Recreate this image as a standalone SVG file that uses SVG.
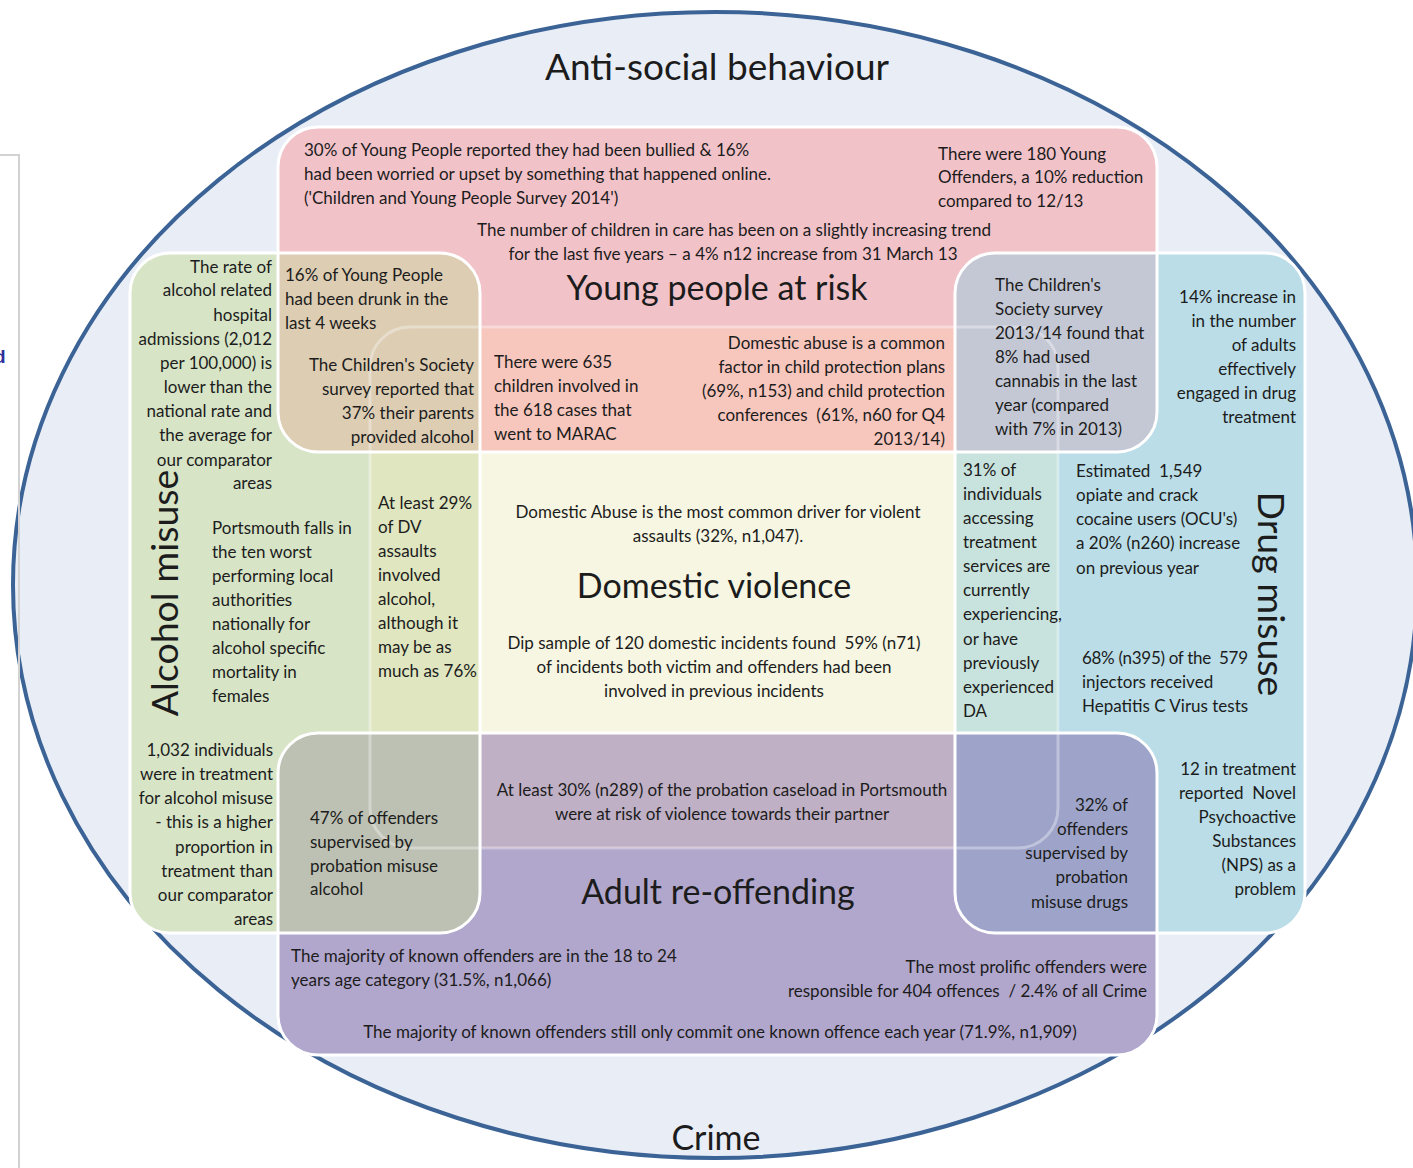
<svg xmlns="http://www.w3.org/2000/svg" width="1413" height="1168" viewBox="0 0 1413 1168">
<style>
.t{font-family:Lato,"Liberation Sans",sans-serif;font-size:17px;fill:#1c1c1c;white-space:pre}
.r{text-anchor:end}
.m{text-anchor:middle}
.h{font-size:34px}
.v{font-size:37.5px}
.box{stroke:#ffffff;stroke-width:3;fill:none}
</style>
<defs>
<clipPath id="cPink"><rect x="278" y="127" width="879" height="325" rx="40"/></clipPath>
<clipPath id="cGreen"><rect x="130" y="253" width="350" height="680" rx="40"/></clipPath>
<clipPath id="cBlue"><rect x="955" y="253" width="350" height="680" rx="40"/></clipPath>
<clipPath id="cPurple"><rect x="278" y="733" width="879" height="322" rx="40"/></clipPath>
<clipPath id="cDV"><rect x="370" y="327" width="688" height="521" rx="40"/></clipPath>
</defs>
<rect x="0" y="0" width="1413" height="1168" fill="#ffffff"/>
<ellipse cx="715" cy="585" rx="702" ry="573" fill="#e9eef6" stroke="#3b6396" stroke-width="4"/>
<path d="M0 155 H19 V1168" fill="none" stroke="#d2d2d2" stroke-width="2"/>
<text x="-6" y="363" style="font-family:'Liberation Sans',sans-serif;font-size:19px;font-weight:bold;fill:#2f2f9a">d</text>

<g id="regions">
<rect x="278" y="127" width="879" height="325" rx="40" fill="#f2c2c9"/>
<rect x="130" y="253" width="350" height="680" rx="40" fill="#d7e4c6"/>
<rect x="955" y="253" width="350" height="680" rx="40" fill="#badde7"/>
<rect x="278" y="733" width="879" height="322" rx="40" fill="#b1a6cc"/>
<rect x="370" y="327" width="688" height="521" rx="40" fill="#f6f6e2"/>
<rect x="370" y="327" width="688" height="521" rx="40" fill="#f7c6bd" clip-path="url(#cPink)"/>
<rect x="370" y="327" width="688" height="521" rx="40" fill="#dfe6c0" clip-path="url(#cGreen)"/>
<rect x="370" y="327" width="688" height="521" rx="40" fill="#c8e3dd" clip-path="url(#cBlue)"/>
<rect x="370" y="327" width="688" height="521" rx="40" fill="#c0b0c5" clip-path="url(#cPurple)"/>
<rect x="130" y="253" width="350" height="680" rx="40" fill="#dccdb3" clip-path="url(#cPink)"/>
<rect x="955" y="253" width="350" height="680" rx="40" fill="#c4c8d5" clip-path="url(#cPink)"/>
<rect x="130" y="253" width="350" height="680" rx="40" fill="#bdc1b3" clip-path="url(#cPurple)"/>
<rect x="955" y="253" width="350" height="680" rx="40" fill="#9ea4c9" clip-path="url(#cPurple)"/>
<rect class="box" x="370" y="327" width="688" height="521" rx="40" stroke-opacity="0.35" stroke-width="2"/>
<rect class="box" x="278" y="127" width="879" height="325" rx="40"/>
<rect class="box" x="130" y="253" width="350" height="680" rx="40"/>
<rect class="box" x="955" y="253" width="350" height="680" rx="40"/>
<rect class="box" x="278" y="733" width="879" height="322" rx="40"/>
</g>

<g id="titles">
<text class="t m h" x="717" y="80" style="font-size:37px">Anti-social behaviour</text>
<text class="t m h" x="717" y="300">Young people at risk</text>
<text class="t m h" x="714" y="598">Domestic violence</text>
<text class="t m h" x="718" y="904">Adult re-offending</text>
<text class="t m h" x="716" y="1150">Crime</text>
<text class="t m v" transform="translate(178 593) rotate(-90)">Alcohol misuse</text>
<text class="t m v" transform="translate(1258 594) rotate(90)">Drug misuse</text>
</g>

<g id="young-people">
<text class="t" x="304" y="156">30% of Young People reported they had been bullied &amp; 16%</text>
<text class="t" x="304" y="180">had been worried or upset by something that happened online.</text>
<text class="t" x="304" y="204">('Children and Young People Survey 2014')</text>
<text class="t" x="938" y="160">There were 180 Young</text>
<text class="t" x="938" y="183">Offenders, a 10% reduction</text>
<text class="t" x="938" y="207">compared to 12/13</text>
<text class="t m" x="734" y="236">The number of children in care has been on a slightly increasing trend</text>
<text class="t m" x="733" y="260">for the last five years – a 4% n12 increase from 31 March 13</text>
</g>

<g id="alcohol">
<text class="t r" x="272" y="273">The rate of</text>
<text class="t r" x="272" y="296">alcohol related</text>
<text class="t r" x="272" y="321">hospital</text>
<text class="t r" x="272" y="345">admissions (2,012</text>
<text class="t r" x="272" y="369">per 100,000) is</text>
<text class="t r" x="272" y="393">lower than the</text>
<text class="t r" x="272" y="417">national rate and</text>
<text class="t r" x="272" y="441">the average for</text>
<text class="t r" x="272" y="466">our comparator</text>
<text class="t r" x="272" y="489">areas</text>
<text class="t" x="212" y="534">Portsmouth falls in</text>
<text class="t" x="212" y="558">the ten worst</text>
<text class="t" x="212" y="582">performing local</text>
<text class="t" x="212" y="606">authorities</text>
<text class="t" x="212" y="630">nationally for</text>
<text class="t" x="212" y="654">alcohol specific</text>
<text class="t" x="212" y="678">mortality in</text>
<text class="t" x="212" y="702">females</text>
<text class="t r" x="273" y="756">1,032 individuals</text>
<text class="t r" x="273" y="780">were in treatment</text>
<text class="t r" x="273" y="804">for alcohol misuse</text>
<text class="t r" x="273" y="828">- this is a higher</text>
<text class="t r" x="273" y="853">proportion in</text>
<text class="t r" x="273" y="877">treatment than</text>
<text class="t r" x="273" y="901">our comparator</text>
<text class="t r" x="273" y="925">areas</text>
</g>

<g id="alcohol-young">
<text class="t" x="285" y="281">16% of Young People</text>
<text class="t" x="285" y="305">had been drunk in the</text>
<text class="t" x="285" y="329">last 4 weeks</text>
<text class="t r" x="474" y="371">The Children's Society</text>
<text class="t r" x="474" y="395">survey reported that</text>
<text class="t r" x="474" y="419">37% their parents</text>
<text class="t r" x="474" y="443">provided alcohol</text>
</g>

<g id="young-dv">
<text class="t" x="494" y="368">There were 635</text>
<text class="t" x="494" y="392">children involved in</text>
<text class="t" x="494" y="416">the 618 cases that</text>
<text class="t" x="494" y="440">went to MARAC</text>
<text class="t r" x="945" y="349">Domestic abuse is a common</text>
<text class="t r" x="945" y="373">factor in child protection plans</text>
<text class="t r" x="945" y="397">(69%, n153) and child protection</text>
<text class="t r" x="945" y="421">conferences  (61%, n60 for Q4</text>
<text class="t r" x="945" y="445">2013/14)</text>
</g>

<g id="alcohol-dv">
<text class="t" x="378" y="509">At least 29%</text>
<text class="t" x="378" y="533">of DV</text>
<text class="t" x="378" y="557">assaults</text>
<text class="t" x="378" y="581">involved</text>
<text class="t" x="378" y="605">alcohol,</text>
<text class="t" x="378" y="629">although it</text>
<text class="t" x="378" y="653">may be as</text>
<text class="t" x="378" y="677">much as 76%</text>
</g>

<g id="dv">
<text class="t m" x="718" y="518">Domestic Abuse is the most common driver for violent</text>
<text class="t m" x="718" y="542">assaults (32%, n1,047).</text>
<text class="t m" x="714" y="649">Dip sample of 120 domestic incidents found  59% (n71)</text>
<text class="t m" x="714" y="673">of incidents both victim and offenders had been</text>
<text class="t m" x="714" y="697">involved in previous incidents</text>
</g>

<g id="drug-young">
<text class="t" x="995" y="291">The Children's</text>
<text class="t" x="995" y="315">Society survey</text>
<text class="t" x="995" y="339">2013/14 found that</text>
<text class="t" x="995" y="363">8% had used</text>
<text class="t" x="995" y="387">cannabis in the last</text>
<text class="t" x="995" y="411">year (compared</text>
<text class="t" x="995" y="435">with 7% in 2013)</text>
</g>

<g id="drug">
<text class="t r" x="1296" y="303">14% increase in</text>
<text class="t r" x="1296" y="327">in the number</text>
<text class="t r" x="1296" y="351">of adults</text>
<text class="t r" x="1296" y="375">effectively</text>
<text class="t r" x="1296" y="399">engaged in drug</text>
<text class="t r" x="1296" y="423">treatment</text>
<text class="t" x="1076" y="477">Estimated  1,549</text>
<text class="t" x="1076" y="501">opiate and crack</text>
<text class="t" x="1076" y="525">cocaine users (OCU's)</text>
<text class="t" x="1076" y="549">a 20% (n260) increase</text>
<text class="t" x="1076" y="574">on previous year</text>
<text class="t" x="1082" y="664" textLength="166" lengthAdjust="spacing">68% (n395) of the  579</text>
<text class="t" x="1082" y="688">injectors received</text>
<text class="t" x="1082" y="712">Hepatitis C Virus tests</text>
<text class="t r" x="1296" y="775">12 in treatment</text>
<text class="t r" x="1296" y="799">reported  Novel</text>
<text class="t r" x="1296" y="823">Psychoactive</text>
<text class="t r" x="1296" y="847">Substances</text>
<text class="t r" x="1296" y="871">(NPS) as a</text>
<text class="t r" x="1296" y="895">problem</text>
</g>

<g id="drug-dv">
<text class="t" x="963" y="476">31% of</text>
<text class="t" x="963" y="500">individuals</text>
<text class="t" x="963" y="524">accessing</text>
<text class="t" x="963" y="548">treatment</text>
<text class="t" x="963" y="572">services are</text>
<text class="t" x="963" y="596">currently</text>
<text class="t" x="963" y="620">experiencing,</text>
<text class="t" x="963" y="645">or have</text>
<text class="t" x="963" y="669">previously</text>
<text class="t" x="963" y="693">experienced</text>
<text class="t" x="963" y="717">DA</text>
</g>

<g id="drug-offending">
<text class="t r" x="1128" y="811">32% of</text>
<text class="t r" x="1128" y="835">offenders</text>
<text class="t r" x="1128" y="859">supervised by</text>
<text class="t r" x="1128" y="883">probation</text>
<text class="t r" x="1128" y="908">misuse drugs</text>
</g>

<g id="alcohol-offending">
<text class="t" x="310" y="824">47% of offenders</text>
<text class="t" x="310" y="848">supervised by</text>
<text class="t" x="310" y="872">probation misuse</text>
<text class="t" x="310" y="895">alcohol</text>
</g>

<g id="dv-offending">
<text class="t m" x="722" y="796">At least 30% (n289) of the probation caseload in Portsmouth</text>
<text class="t m" x="722" y="820">were at risk of violence towards their partner</text>
</g>

<g id="offending">
<text class="t" x="291" y="962">The majority of known offenders are in the 18 to 24</text>
<text class="t" x="291" y="986">years age category (31.5%, n1,066)</text>
<text class="t r" x="1147" y="973">The most prolific offenders were</text>
<text class="t r" x="1147" y="997">responsible for 404 offences  / 2.4% of all Crime</text>
<text class="t m" x="720" y="1038">The majority of known offenders still only commit one known offence each year (71.9%, n1,909)</text>
</g>
</svg>
